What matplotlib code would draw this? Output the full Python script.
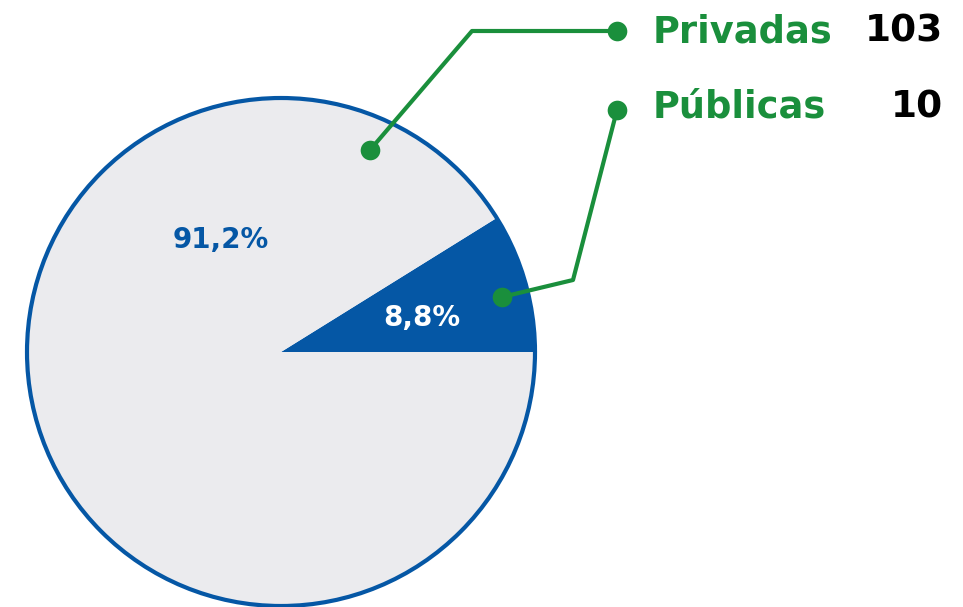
import matplotlib
matplotlib.use('Agg')
import matplotlib.pyplot as plt
from matplotlib.patches import Circle

# Data
categories = ["Públicas", "Privadas"]
values = [10, 103]

BLUE = "#0557a5"
GRAY = "#ebebee"
GREEN = "#1a8f3c"

W, H = 963, 607
fig = plt.figure(figsize=(W / 100, H / 100), dpi=100)
ax = fig.add_axes([0, 0, 1, 1])

cx, cy, r = 281, H - 352, 254
ax.pie(values, colors=[BLUE, GRAY], startangle=0, counterclock=True,
       center=(cx, cy), radius=r, wedgeprops=dict(linewidth=0))
ax.add_patch(Circle((cx, cy), r, fill=False, edgecolor=BLUE, linewidth=3))

ax.set_xlim(0, W)
ax.set_ylim(0, H)
ax.set_aspect('equal')
ax.axis('off')

total = sum(values)
pcts = [f"{v / total * 100:.1f}".replace(".", ",") + "%" for v in values]

# percentage labels
ax.text(422, H - 318, pcts[0], color="white", fontsize=20, fontweight="bold",
        ha="center", va="center")
ax.text(221, H - 240, pcts[1], color=BLUE, fontsize=20, fontweight="bold",
        ha="center", va="center")

# leader lines
lead = dict(color=GREEN, linewidth=3, solid_capstyle="round")
ax.plot([370, 472, 617], [H - 150, H - 31, H - 31], **lead)
ax.plot([502, 573, 617], [H - 297, H - 280, H - 110], **lead)
ax.scatter([370, 617, 502, 617], [H - 150, H - 31, H - 297, H - 110],
           s=200, color=GREEN, zorder=5, linewidths=0)

# legend text
for name, v, y in [(categories[1], values[1], 32),
                   (categories[0], values[0], 107)]:
    ax.text(653, H - y, name, color=GREEN, fontsize=26.5, fontweight="bold",
            ha="left", va="center")
    ax.text(943, H - y, str(v), color="black", fontsize=27, fontweight="bold",
            ha="right", va="center")

fig.savefig("out.png", dpi=100)
